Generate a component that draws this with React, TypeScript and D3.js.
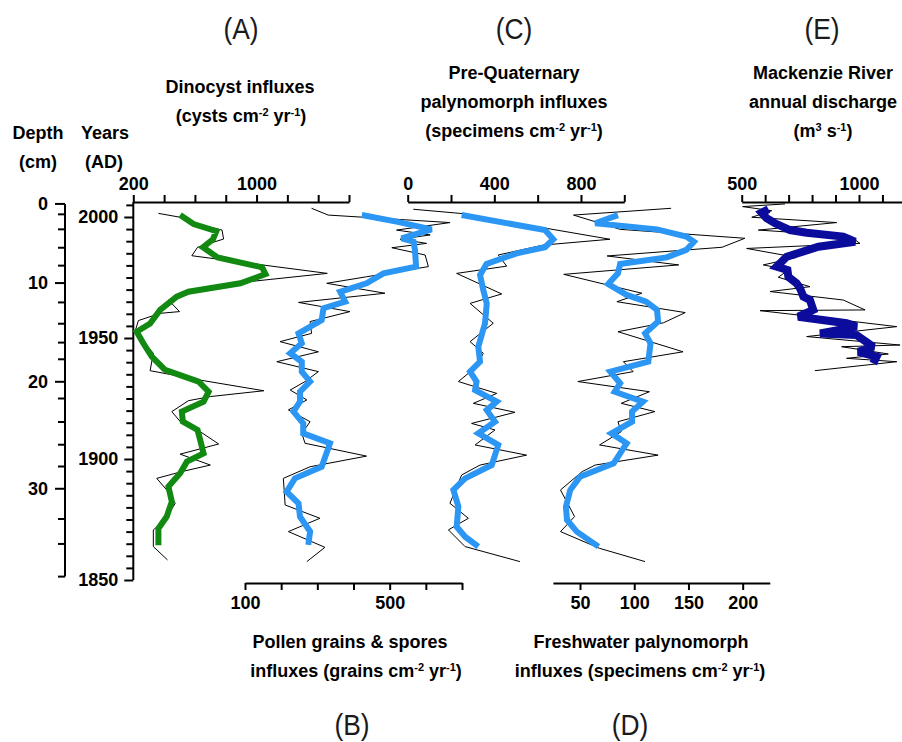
import * as d3 from "d3";
import { useEffect, useRef } from "react";

// years (AD) at each 2 cm depth tick
const depthTicks = [0, 2, 4, 6, 8, 10, 12, 14, 16, 18, 20, 22, 24, 26, 28, 30, 32, 34, 36];
const depthAges = [2005.4, 2001.1, 1994.9, 1987.3, 1979.9, 1972.7, 1964.7, 1955.9, 1948.1, 1941.2,
  1931.9, 1925.0, 1915.3, 1905.9, 1896.9, 1887.7, 1875.2, 1864.9, 1851.4];
const depthLabels = [0, 10, 20, 30];
const yearLabels = [2000, 1950, 1900, 1850];

// (A) dinocyst influxes [year, value]
const dinoRaw: [number, number][] = [
  [2001.5, 363], [1999.9, 504], [1997.4, 595], [1994.6, 776], [1990.9, 786], [1987.5, 617],
  [1984.0, 580], [1982.6, 747], [1976.7, 1459], [1972.9, 895], [1969.6, 558], [1965.7, 428],
  [1960.9, 500], [1960.2, 374], [1957.2, 233], [1952.6, 211], [1948.5, 265], [1943.7, 330],
  [1936.5, 309], [1932.6, 634], [1928.2, 1047], [1925.8, 700], [1924.1, 558], [1919.6, 450],
  [1914.7, 515], [1911.3, 634], [1906.2, 754], [1902.0, 504], [1897.5, 700], [1894.8, 515],
  [1892.0, 352], [1887.2, 417], [1881.7, 472], [1874.8, 406], [1870.7, 330], [1863.8, 330],
  [1858.3, 422],
];
const dinoSmooth: [number, number][] = [
  [2000.8, 504], [1997.1, 591], [1994.2, 739], [1990.8, 717], [1987.5, 652], [1983.3, 747],
  [1979.2, 1036], [1976.4, 1058], [1972.6, 895], [1969.1, 558], [1967.1, 482], [1961.6, 374],
  [1956.0, 309], [1952.6, 222], [1947.8, 265], [1942.3, 320], [1936.8, 406], [1932.0, 624],
  [1927.8, 689], [1923.7, 656], [1919.6, 515], [1915.4, 522], [1912.0, 617], [1907.9, 634],
  [1902.3, 656], [1898.9, 548], [1894.1, 504], [1888.6, 428], [1882.4, 450], [1876.2, 417],
  [1871.3, 363], [1864.4, 363],
];

// (B) pollen grains & spores influxes
const pollenRaw: [number, number][] = [
  [2003.6, 284], [2000.8, 330], [1997.7, 667], [1994.6, 519], [1992.6, 612], [1990.8, 529],
  [1989.1, 602], [1987.3, 506], [1984.3, 598], [1979.5, 607], [1975.3, 436], [1972.6, 326],
  [1968.5, 487], [1964.7, 248], [1960.9, 390], [1956.8, 280], [1951.9, 284], [1948.5, 197],
  [1944.3, 303], [1940.2, 188], [1936.1, 303], [1932.0, 266], [1928.5, 225], [1924.4, 271],
  [1920.3, 220], [1915.4, 280], [1910.6, 257], [1906.5, 266], [1901.2, 436], [1896.8, 280],
  [1892.0, 206], [1881.0, 211], [1875.5, 307], [1870.0, 220], [1863.5, 321], [1857.6, 271],
];
const pollenSmooth: [number, number][] = [
  [2000.8, 423], [1998.1, 519], [1994.9, 616], [1991.2, 533], [1989.8, 566], [1986.4, 570],
  [1979.5, 573], [1976.7, 483], [1972.6, 436], [1969.1, 363], [1965.0, 377], [1962.3, 317],
  [1957.4, 312], [1951.9, 248], [1947.8, 257], [1943.7, 225], [1940.2, 257], [1936.1, 257],
  [1932.0, 280], [1927.8, 252], [1923.7, 252], [1919.6, 234], [1914.7, 261], [1910.6, 261],
  [1906.5, 335], [1896.8, 312], [1892.0, 238], [1886.5, 215], [1881.7, 248], [1876.2, 252],
  [1870.0, 280], [1864.5, 275],
];

// (C) pre-Quaternary palynomorph influxes
const preQRaw: [number, number][] = [
  [2003.2, 26], [2001.5, 241], [1995.3, 642], [1990.8, 934], [1988.4, 626], [1984.3, 418],
  [1979.7, 457], [1976.7, 226], [1968.2, 434], [1964.3, 288], [1956.1, 395], [1948.5, 288],
  [1943.7, 349], [1938.2, 318], [1932.0, 234], [1927.1, 411], [1923.0, 303], [1919.3, 495],
  [1914.7, 295], [1912.0, 403], [1905.8, 311], [1901.6, 549], [1897.5, 334], [1893.4, 249],
  [1881.7, 195], [1875.5, 280], [1870.7, 188], [1863.8, 265], [1857.6, 518],
];
const preQSmooth: [number, number][] = [
  [2000.8, 249], [1994.6, 634], [1990.8, 672], [1987.5, 634], [1985.0, 503], [1980.6, 364],
  [1976.0, 334], [1969.8, 349], [1964.3, 365], [1956.1, 357], [1946.4, 326], [1940.2, 334],
  [1936.1, 288], [1932.0, 318], [1928.5, 311], [1923.7, 411], [1920.2, 365], [1915.4, 403],
  [1910.6, 326], [1905.8, 418], [1897.5, 388], [1892.0, 265], [1887.2, 211], [1880.3, 234],
  [1872.0, 226], [1867.9, 265], [1863.8, 326],
];

// (D) freshwater palynomorph influxes
const freshRaw: [number, number][] = [
  [2003.6, 134], [2000.8, 44], [1994.9, 87], [1991.2, 202], [1987.5, 181], [1983.9, 75],
  [1980.2, 141], [1976.3, 35], [1968.5, 107], [1965.0, 84], [1960.5, 147], [1956.3, 127],
  [1952.6, 85], [1944.3, 145], [1940.2, 90], [1936.1, 99], [1932.0, 48], [1927.8, 114],
  [1923.0, 88], [1919.6, 119], [1915.4, 85], [1911.3, 88], [1905.8, 68], [1901.6, 122],
  [1897.5, 64], [1894.8, 52], [1887.2, 32], [1876.2, 45], [1870.0, 32], [1863.1, 68],
  [1857.6, 110],
];
const freshSmooth: [number, number][] = [
  [2000.8, 85], [1997.4, 64], [1994.9, 121], [1991.9, 148], [1989.8, 155], [1986.4, 148],
  [1983.3, 130], [1980.6, 87], [1976.7, 85], [1972.3, 76], [1967.8, 93], [1965.0, 111],
  [1961.6, 121], [1956.8, 122], [1951.9, 110], [1947.8, 115], [1940.2, 113], [1936.1, 78],
  [1931.3, 87], [1927.8, 82], [1923.7, 108], [1919.6, 98], [1915.4, 98], [1910.6, 79],
  [1906.5, 93], [1898.2, 81], [1892.7, 50], [1887.2, 41], [1880.3, 37], [1874.8, 38],
  [1870.0, 47], [1863.8, 67],
];

// (E) Mackenzie River annual discharge
const dischargeRaw: [number, number][] = [
  [2005.4, 685], [2004.3, 504], [2002.6, 628], [1999.9, 543], [1997.7, 905], [1994.6, 571],
  [1992.1, 962], [1989.1, 1004], [1987.0, 521], [1983.3, 734], [1980.2, 592], [1978.1, 699],
  [1975.1, 656], [1971.2, 791], [1969.2, 621], [1965.7, 933], [1961.6, 1026], [1961.3, 578],
  [1958.8, 805], [1954.7, 1161], [1950.6, 777], [1947.1, 1175], [1946.4, 926], [1943.4, 1125],
  [1941.6, 947], [1940.2, 1161], [1936.5, 812],
];
const dischargeSmooth: [number, number][] = [
  [2003.2, 614], [2001.8, 585], [1999.5, 606], [1997.4, 642], [1994.6, 706], [1993.5, 777],
  [1991.9, 933], [1989.8, 983], [1987.7, 827], [1983.6, 692], [1979.5, 649], [1978.1, 695],
  [1975.3, 699], [1972.6, 734], [1970.5, 749], [1967.1, 763], [1965.7, 791], [1961.6, 805],
  [1958.8, 741], [1956.1, 947], [1954.7, 990], [1951.9, 834], [1951.2, 990], [1946.4, 1061],
  [1944.3, 997], [1942.3, 1075], [1939.5, 1061],
];

const FONT = "'Liberation Sans', Arial, sans-serif";
const GREEN = "#128a12";
const BLUE = "#2b96f3";
const NAVY = "#0b0b9c";

const App = () => {
  const svgRef = useRef<SVGSVGElement>(null);

  const y = d3.scaleLinear().domain([2000, 1850]).range([217, 580]);
  const xA = d3.scaleLinear().domain([200, 1600]).range([133.3, 349]);
  const xB = d3.scaleLinear().domain([100, 700]).range([245, 462]);
  const xC = d3.scaleLinear().domain([0, 1000]).range([407.7, 624.3]);
  const xD = d3.scaleLinear().domain([25, 225]).range([552.9, 769.8]);
  const xE = d3.scaleLinear().domain([500, 1200]).range([741.7, 905.9]);

  const topY = 202;
  const bottomY = 583;

  useEffect(() => {
    const svg = d3.select(svgRef.current);
    svg.selectAll(".drawn").remove();
    const g = svg.append("g").attr("class", "drawn");

    const styleAxis = (sel: any) => {
      sel.select(".domain").attr("stroke-width", 2);
      sel.selectAll(".tick line").attr("stroke-width", 2);
      sel.selectAll(".tick text")
        .attr("font-family", FONT).attr("font-size", 18).attr("font-weight", "bold").attr("fill", "#000");
    };

    // top axes
    const topAxis = (scale: any, ticks: number[], labels: number[], yPos: number) => {
      const a = g.append("g").attr("transform", `translate(0,${yPos})`)
        .call(d3.axisTop(scale).tickValues(ticks).tickSize(7).tickSizeOuter(0).tickPadding(5)
          .tickFormat((d: any) => (labels.includes(d) ? String(d) : "")));
      styleAxis(a);
    };
    const bottomAxis = (scale: any, ticks: number[], labels: number[], yPos: number) => {
      const a = g.append("g").attr("transform", `translate(0,${yPos})`)
        .call(d3.axisBottom(scale).tickValues(ticks).tickSize(7).tickSizeOuter(0).tickPadding(6)
          .tickFormat((d: any) => (labels.includes(d) ? String(d) : "")));
      styleAxis(a);
    };

    topAxis(xA, d3.range(200, 1601, 200), [200, 1000], topY);
    topAxis(xC, d3.range(0, 1001, 200), [0, 400, 800], topY);
    topAxis(xE, d3.range(500, 1201, 100), [500, 1000], topY);
    bottomAxis(xB, d3.range(100, 701, 100), [100, 500], bottomY);
    bottomAxis(xD, [50, 100, 150, 200], [50, 100, 150, 200], bottomY);

    // years axis
    const yearTop = y.invert(topY);
    const ya = g.append("g").attr("transform", "translate(133.3,0)")
      .call(d3.axisLeft(y).tickValues(d3.range(1850, 2006, 5)).tickSize(7).tickSizeOuter(0).tickPadding(8)
        .tickFormat((d: any) => (yearLabels.includes(d) ? String(d) : "")));
    ya.select(".domain").remove();
    styleAxis(ya);
    ya.selectAll(".tick").filter((d: any) => yearLabels.includes(d)).select("line").attr("x2", -9);
    g.append("line").attr("x1", 133.3).attr("x2", 133.3).attr("y1", y(yearTop)).attr("y2", y(1850))
      .attr("stroke", "#000").attr("stroke-width", 2);

    // depth axis (age-depth model)
    const depthX = 65;
    g.append("line").attr("x1", depthX).attr("x2", depthX)
      .attr("y1", y(depthAges[0])).attr("y2", y(depthAges[depthAges.length - 1]))
      .attr("stroke", "#000").attr("stroke-width", 2);
    depthTicks.forEach((d, i) => {
      const major = depthLabels.includes(d);
      g.append("line").attr("x1", depthX).attr("x2", depthX - (major ? 10 : 7))
        .attr("y1", y(depthAges[i])).attr("y2", y(depthAges[i]))
        .attr("stroke", "#000").attr("stroke-width", 2);
      if (major) {
        g.append("text").attr("x", depthX - 17).attr("y", y(depthAges[i])).attr("dy", "0.35em")
          .attr("text-anchor", "end").attr("font-family", FONT).attr("font-size", 18)
          .attr("font-weight", "bold").text(d);
      }
    });

    // curves
    const draw = (data: [number, number][], xs: any, color: string, width: number) => {
      const line = d3.line<[number, number]>().x(d => xs(d[1])).y(d => y(d[0]));
      g.append("path").attr("d", line(data)).attr("fill", "none").attr("stroke", color)
        .attr("stroke-width", width).attr("stroke-linejoin", "miter").attr("stroke-miterlimit", 2);
    };
    draw(dinoRaw, xA, "#000", 1);
    draw(dinoSmooth, xA, GREEN, 6);
    draw(pollenRaw, xB, "#000", 1);
    draw(pollenSmooth, xB, BLUE, 6);
    draw(preQRaw, xC, "#000", 1);
    draw(preQSmooth, xC, BLUE, 6);
    draw(freshRaw, xD, "#000", 1);
    draw(freshSmooth, xD, BLUE, 6);
    draw(dischargeRaw, xE, "#000", 1);
    draw(dischargeSmooth, xE, NAVY, 8);
  }, []);

  const sup = (t: string) => (
    <tspan baselineShift="super" fontSize={11}>{t}</tspan>
  );
  const title = { fontFamily: FONT, fontSize: 18, fontWeight: "bold" as const, textAnchor: "middle" as const };
  const letter = (s: string, x: number, yy: number) => (
    <text transform={`translate(${x},${yy}) scale(0.88,1)`} textAnchor="middle"
      fontFamily={FONT} fontSize={30} fill="#1a1a1a">{s}</text>
  );

  return (
    <svg ref={svgRef} width={902} height={742}
      style={{ position: "absolute", left: 0, top: 0, background: "#fff" }}>
      {letter("(A)", 241, 39)}
      {letter("(C)", 514, 39)}
      {letter("(E)", 822, 39)}
      {letter("(B)", 352, 735)}
      {letter("(D)", 630, 735)}

      <text x={240} y={93} style={title}>Dinocyst influxes</text>
      <text x={241} y={122} style={title}>(cysts cm{sup("-2")} yr{sup("-1")})</text>

      <text x={514} y={79} style={title}>Pre-Quaternary</text>
      <text x={514} y={108} style={title}>palynomorph influxes</text>
      <text x={514} y={137} style={title}>(specimens cm{sup("-2")} yr{sup("-1")})</text>

      <text x={823} y={79} style={title}>Mackenzie River</text>
      <text x={823} y={108} style={title}>annual discharge</text>
      <text x={823} y={137} style={title}>(m{sup("3")} s{sup("-1")})</text>

      <text x={38} y={139} style={title}>Depth</text>
      <text x={38} y={168} style={title}>(cm)</text>
      <text x={105} y={139} style={title}>Years</text>
      <text x={104} y={168} style={title}>(AD)</text>

      <text x={350} y={648} style={title}>Pollen grains &amp; spores</text>
      <text x={356} y={677} style={title}>influxes (grains cm{sup("-2")} yr{sup("-1")})</text>
      <text x={641} y={648} style={title}>Freshwater palynomorph</text>
      <text x={640} y={677} style={title}>influxes (specimens cm{sup("-2")} yr{sup("-1")})</text>
    </svg>
  );
};

export default App;
